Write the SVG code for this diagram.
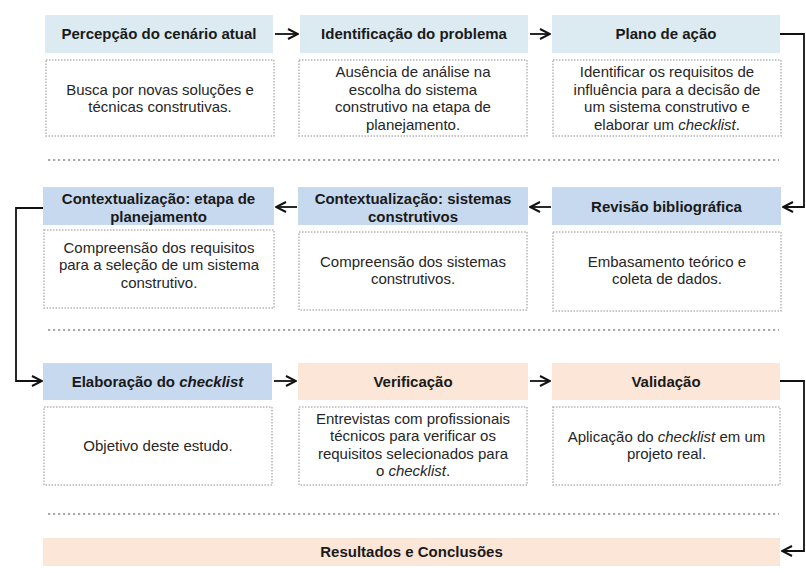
<svg xmlns="http://www.w3.org/2000/svg" width="806" height="573" viewBox="0 0 806 573">
<defs>
<marker id="arr" viewBox="0 0 12 12" refX="11" refY="6" markerWidth="12" markerHeight="12" markerUnits="userSpaceOnUse" orient="auto">
<path d="M1,1 L11,6 L1,11" fill="none" stroke="#111" stroke-width="2"/>
</marker>
<style>
.h1{fill:#dbebf1}
.h2{fill:#c7d9ef}
.h3{fill:#fce6d7}
.d{fill:#fff;stroke:#b5b5b5;stroke-width:1.5;stroke-dasharray:1.5 1.5}
.sep{stroke:#a8a8a8;stroke-width:2.2;stroke-dasharray:2.2 2.8}
.ht{font-family:"Liberation Sans",Arial,sans-serif;font-size:15px;font-weight:bold;fill:#1a1a1a;text-anchor:middle}
.dt{font-family:"Liberation Sans",Arial,sans-serif;font-size:15px;fill:#262626;text-anchor:middle}
.c{fill:none;stroke:#111;stroke-width:1.8}
</style>
</defs>
<rect width="806" height="573" fill="#fff"/>

<g id="separators">
<line class="sep" x1="48" y1="160" x2="779" y2="160"/>
<line class="sep" x1="48" y1="330" x2="779" y2="330"/>
<line class="sep" x1="48" y1="514" x2="779" y2="514"/>
</g>

<g id="n1">
<rect class="h1" x="45" y="15" width="228" height="38"/>
<text class="ht" x="159" y="39">Percepção do cenário atual</text>
<rect class="d" x="46" y="60" width="228" height="76"/>
<text class="dt" x="160" y="94.5">Busca por novas soluções e</text>
<text class="dt" x="160" y="112">técnicas construtivas.</text>
</g>

<g id="n2">
<rect class="h1" x="300" y="15" width="228" height="38"/>
<text class="ht" x="414" y="39">Identificação do problema</text>
<rect class="d" x="299" y="60" width="228" height="76"/>
<text class="dt" x="413" y="77">Ausência de análise na</text>
<text class="dt" x="413" y="94.5">escolha do sistema</text>
<text class="dt" x="413" y="112">construtivo na etapa de</text>
<text class="dt" x="413" y="129.5">planejamento.</text>
</g>

<g id="n3">
<rect class="h1" x="552" y="15" width="228" height="38"/>
<text class="ht" x="666" y="39">Plano de ação</text>
<rect class="d" x="553" y="60" width="228" height="76"/>
<text class="dt" x="667" y="77">Identificar os requisitos de</text>
<text class="dt" x="667" y="94.5">influência para a decisão de</text>
<text class="dt" x="667" y="112">um sistema construtivo e</text>
<text class="dt" x="667" y="129.5">elaborar um <tspan font-style="italic">checklist</tspan>.</text>
</g>

<g id="n4">
<rect class="h2" x="43" y="187" width="231" height="38"/>
<text class="ht" x="158.5" y="203.5">Contextualização: etapa de</text>
<text class="ht" x="158.5" y="221.5">planejamento</text>
<rect class="d" x="44" y="230" width="230" height="78"/>
<text class="dt" x="159" y="252.5">Compreensão dos requisitos</text>
<text class="dt" x="159" y="270">para a seleção de um sistema</text>
<text class="dt" x="159" y="287.5">construtivo.</text>
</g>

<g id="n5">
<rect class="h2" x="298" y="187" width="230" height="38"/>
<text class="ht" x="413" y="203.5">Contextualização: sistemas</text>
<text class="ht" x="413" y="221.5">construtivos</text>
<rect class="d" x="299" y="232" width="228" height="78"/>
<text class="dt" x="413" y="266.5">Compreensão dos sistemas</text>
<text class="dt" x="413" y="284">construtivos.</text>
</g>

<g id="n6">
<rect class="h2" x="552" y="187" width="229" height="38"/>
<text class="ht" x="666.5" y="211.5">Revisão bibliográfica</text>
<rect class="d" x="553" y="232" width="228" height="79"/>
<text class="dt" x="667" y="266.5">Embasamento teórico e</text>
<text class="dt" x="667" y="284">coleta de dados.</text>
</g>

<g id="n7">
<rect class="h2" x="43" y="363" width="229" height="37"/>
<text class="ht" x="157.5" y="386.5">Elaboração do <tspan font-style="italic">checklist</tspan></text>
<rect class="d" x="44" y="407" width="228" height="78"/>
<text class="dt" x="158" y="450.5">Objetivo deste estudo.</text>
</g>

<g id="n8">
<rect class="h3" x="298" y="363" width="230" height="37"/>
<text class="ht" x="413" y="386.5">Verificação</text>
<rect class="d" x="299" y="407" width="228" height="78"/>
<text class="dt" x="413" y="423.5">Entrevistas com profissionais</text>
<text class="dt" x="413" y="441">técnicos para verificar os</text>
<text class="dt" x="413" y="458.5">requisitos selecionados para</text>
<text class="dt" x="413" y="476">o <tspan font-style="italic">checklist</tspan>.</text>
</g>

<g id="n9">
<rect class="h3" x="552" y="363" width="228" height="37"/>
<text class="ht" x="666" y="386.5">Validação</text>
<rect class="d" x="553" y="407" width="227" height="78"/>
<text class="dt" x="666.5" y="441.5">Aplicação do <tspan font-style="italic">checklist</tspan> em um</text>
<text class="dt" x="666.5" y="459">projeto real.</text>
</g>

<g id="n10">
<rect class="h3" x="43" y="538" width="737" height="28"/>
<text class="ht" x="411.5" y="557">Resultados e Conclusões</text>
</g>

<g id="connectors">
<line class="c" x1="275" y1="34" x2="298" y2="34" marker-end="url(#arr)"/>
<line class="c" x1="530" y1="34" x2="550" y2="34" marker-end="url(#arr)"/>
<polyline class="c" points="780,34 804,34 804,207 783,207" marker-end="url(#arr)"/>
<line class="c" x1="551" y1="207" x2="530" y2="207" marker-end="url(#arr)"/>
<line class="c" x1="297" y1="207" x2="276" y2="207" marker-end="url(#arr)"/>
<polyline class="c" points="43,208 16,208 16,381 42,381" marker-end="url(#arr)"/>
<line class="c" x1="274" y1="381" x2="296" y2="381" marker-end="url(#arr)"/>
<line class="c" x1="530" y1="381" x2="550" y2="381" marker-end="url(#arr)"/>
<polyline class="c" points="780,381 804,381 804,551 782,551" marker-end="url(#arr)"/>
</g>
</svg>
